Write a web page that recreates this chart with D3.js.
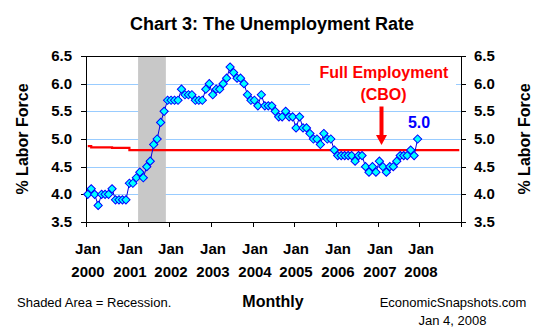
<!DOCTYPE html>
<html>
<head>
<meta charset="utf-8">
<script src="https://cdn.jsdelivr.net/npm/d3@7"></script>
<style>
  html, body { margin: 0; padding: 0; background: #fff; }
  svg { display: block; font-family: "Liberation Sans", Arial, sans-serif; }
</style>
</head>
<body>
<svg id="chart" width="545" height="335"></svg>
<script>
// Civilian unemployment rate, monthly, Jan 2000 - Dec 2007 (percent of labor force)
const startYear = 2000;
const unemploymentRate = [
  4.0, 4.1, 4.0, 3.8, 4.0, 4.0, 4.0, 4.1, 3.9, 3.9, 3.9, 3.9,   // 2000
  4.2, 4.2, 4.3, 4.4, 4.3, 4.5, 4.6, 4.9, 5.0, 5.3, 5.5, 5.7,   // 2001
  5.7, 5.7, 5.7, 5.9, 5.8, 5.8, 5.8, 5.7, 5.7, 5.7, 5.9, 6.0,   // 2002
  5.8, 5.9, 5.9, 6.0, 6.1, 6.3, 6.2, 6.1, 6.1, 6.0, 5.8, 5.7,   // 2003
  5.7, 5.6, 5.8, 5.6, 5.6, 5.6, 5.5, 5.4, 5.4, 5.5, 5.4, 5.4,   // 2004
  5.2, 5.4, 5.2, 5.2, 5.1, 5.0, 5.0, 4.9, 5.1, 5.0, 5.0, 4.8,   // 2005
  4.7, 4.7, 4.7, 4.7, 4.7, 4.6, 4.7, 4.7, 4.5, 4.4, 4.5, 4.4,   // 2006
  4.6, 4.5, 4.4, 4.5, 4.5, 4.6, 4.7, 4.7, 4.7, 4.8, 4.7, 5.0    // 2007
];

// CBO estimate of the full-employment unemployment rate (stepped, by month)
const nairuMonths = ["2000-01", "2000-02", "2000-08", "2001-01", "2008-12"];
const nairuValues = [4.87, 4.85, 4.84, 4.80, 4.80];

// Recession months (inclusive), shaded
const recessionMonths = ["2001-04", "2001-11"];

// Axis ticks
const yearTicks = [2000, 2001, 2002, 2003, 2004, 2005, 2006, 2007, 2008, 2009];
const yearLabels = ["2000", "2001", "2002", "2003", "2004", "2005", "2006", "2007", "2008"];
const rateTicks = [3.5, 4.0, 4.5, 5.0, 5.5, 6.0, 6.5];
const gridValues = [4.0, 4.5, 5.0, 5.5, 6.0];

const svg = d3.select("#chart");
const FONT = "'Liberation Sans', Arial, sans-serif";

const plot = { left: 86, right: 461, top: 56, bottom: 222 };

const x = d3.scaleLinear().domain([2000, 2009]).range([plot.left, plot.right]);
const y = d3.scaleLinear().domain([3.5, 6.5]).range([plot.bottom, plot.top]);
const xr = x.copy().interpolate(d3.interpolateRound);
const yr = y.copy().interpolate(d3.interpolateRound);

// decimal-year position of the middle of a month
const monthMid = (yr0, m) => yr0 + (m + 0.5) / 12;
const parseMonth = s => { const [a, b] = s.split("-").map(Number); return [a, b - 1]; };

const series = unemploymentRate.map((v, i) => ({
  t: monthMid(startYear + Math.floor(i / 12), i % 12),
  v
}));

// Title
svg.append("text")
  .attr("x", 272).attr("y", 30)
  .attr("text-anchor", "middle")
  .style("font", `bold 18px ${FONT}`)
  .text("Chart 3: The Unemployment Rate");

// Gridlines
svg.append("g").selectAll("line").data(gridValues).join("line")
  .attr("x1", plot.left + 0.5).attr("x2", plot.right + 0.5)
  .attr("y1", d => yr(d) + 0.5).attr("y2", d => yr(d) + 0.5)
  .attr("stroke", "#99CCFF").attr("stroke-width", 1);

// Recession shading
const [rsY, rsM] = parseMonth(recessionMonths[0]);
const [reY, reM] = parseMonth(recessionMonths[1]);
svg.append("rect")
  .attr("x", x(rsY + rsM / 12))
  .attr("y", plot.top + 0.5)
  .attr("width", x(reY + (reM + 1) / 12) - x(rsY + rsM / 12))
  .attr("height", plot.bottom - plot.top)
  .attr("fill", "#C8C8C8");

// Annotation background
svg.append("rect")
  .attr("x", 310).attr("y", 59).attr("width", 146).attr("height", 45)
  .attr("fill", "#fff");

// Full-employment line
const nairu = nairuMonths.map((s, i) => {
  const [yy, mm] = parseMonth(s);
  return { t: monthMid(yy, mm), v: nairuValues[i] };
});
svg.append("path")
  .datum(nairu)
  .attr("fill", "none")
  .attr("stroke", "#FF0000")
  .attr("stroke-width", 2.2)
  .attr("d", d3.line().x(d => x(d.t)).y(d => y(d.v)).curve(d3.curveStepAfter));

// Plot frame
svg.append("rect")
  .attr("x", plot.left + 0.5).attr("y", plot.top + 0.5)
  .attr("width", plot.right - plot.left).attr("height", plot.bottom - plot.top)
  .attr("fill", "none").attr("stroke", "#000").attr("stroke-width", 1);

// Axes
const leftAxis = d3.axisLeft(yr).tickValues(rateTicks).tickSize(5).tickSizeOuter(0)
  .tickPadding(9).tickFormat(d3.format(".1f"));
const rightAxis = d3.axisRight(yr).tickValues(rateTicks).tickSize(5).tickSizeOuter(0)
  .tickPadding(8).tickFormat(d3.format(".1f"));
const bottomAxis = d3.axisBottom(xr).tickValues(yearTicks).tickSize(5).tickSizeOuter(0)
  .tickFormat("");

function styleAxis(g) {
  g.select(".domain").attr("stroke", "#000");
  g.selectAll(".tick line").attr("stroke", "#000");
  g.selectAll(".tick text")
    .attr("fill", "#000")
    .style("font", `bold 15px ${FONT}`);
}
svg.append("g").attr("transform", `translate(${plot.left},0)`).call(leftAxis).call(styleAxis);
svg.append("g").attr("transform", `translate(${plot.right},0)`).call(rightAxis).call(styleAxis);
svg.append("g").attr("transform", `translate(0,${plot.bottom})`).call(bottomAxis).call(styleAxis);

// Two-line month/year labels under the ticks
const xl = svg.append("g").style("font", `bold 15px ${FONT}`).attr("text-anchor", "middle");
xl.selectAll("text.mon").data(yearLabels).join("text")
  .attr("class", "mon")
  .attr("x", d => xr(+d) + 2).attr("y", 254)
  .text("Jan");
xl.selectAll("text.yr").data(yearLabels).join("text")
  .attr("class", "yr")
  .attr("x", d => xr(+d) + 2).attr("y", 277)
  .text(d => d);

// Y axis titles
[28, 530].forEach(cx => {
  svg.append("text")
    .attr("transform", `translate(${cx},139) rotate(-90)`)
    .attr("text-anchor", "middle")
    .style("font", `bold 16px ${FONT}`)
    .text("% Labor Force");
});

// Unemployment series
svg.append("path")
  .datum(series)
  .attr("fill", "none")
  .attr("stroke", "#0000DD")
  .attr("stroke-width", 1)
  .attr("d", d3.line().x(d => x(d.t)).y(d => y(d.v)));

const diamond = d3.symbol(d3.symbolSquare, 34);
svg.append("g").selectAll("path").data(series).join("path")
  .attr("transform", d => `translate(${x(d.t)},${y(d.v)}) rotate(45)`)
  .attr("d", diamond)
  .attr("fill", "#00FFFF")
  .attr("stroke", "#0000FF")
  .attr("stroke-width", 1);

// Latest value label
const last = series[series.length - 1];
svg.append("text")
  .attr("x", x(last.t) + 1.5).attr("y", y(last.v) - 11.5)
  .attr("text-anchor", "middle")
  .attr("fill", "#0000FF")
  .style("font", `bold 16px ${FONT}`)
  .text(d3.format(".1f")(last.v));

// Full employment annotation
const ann = svg.append("g").attr("fill", "#FF0000")
  .style("font", `bold 16px ${FONT}`).attr("text-anchor", "middle");
ann.append("text").attr("x", 384).attr("y", 77.5).text("Full Employment");
ann.append("text").attr("x", 383.5).attr("y", 100).text("(CBO)");
svg.append("line")
  .attr("x1", 381.5).attr("x2", 381.5).attr("y1", 106.5).attr("y2", 136)
  .attr("stroke", "#FF0000").attr("stroke-width", 4);
svg.append("path")
  .attr("d", "M376,135 L387,135 L381.5,145 Z")
  .attr("fill", "#FF0000");

// Footer
svg.append("text")
  .attr("x", 17).attr("y", 307)
  .style("font", `13px ${FONT}`)
  .text("Shaded Area = Recession.");
svg.append("text")
  .attr("x", 273).attr("y", 307).attr("text-anchor", "middle")
  .style("font", `bold 16px ${FONT}`)
  .text("Monthly");
svg.append("text")
  .attr("x", 453).attr("y", 307).attr("text-anchor", "middle")
  .style("font", `13px ${FONT}`)
  .text("EconomicSnapshots.com");
svg.append("text")
  .attr("x", 452.5).attr("y", 324.5).attr("text-anchor", "middle")
  .style("font", `13px ${FONT}`)
  .text("Jan 4, 2008");
</script>
</body>
</html>
